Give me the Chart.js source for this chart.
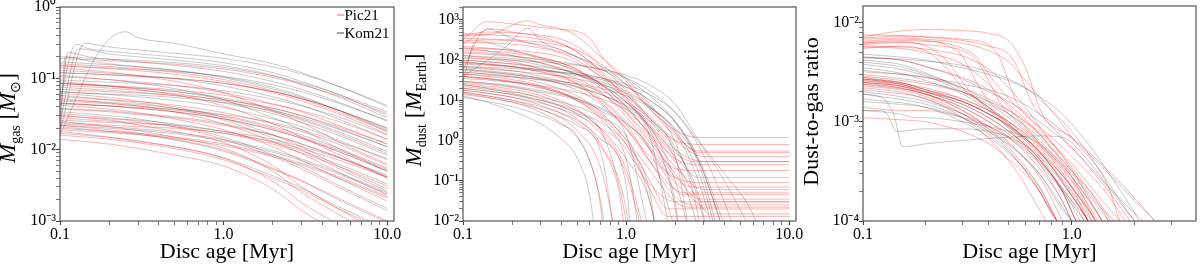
<!DOCTYPE html>
<html><head><meta charset="utf-8">
<script src="https://cdn.jsdelivr.net/npm/chart.js@4.4.0/dist/chart.umd.min.js"></script>
<style>
html,body{margin:0;padding:0;background:#fff;}
#wrap{position:relative;width:1200px;height:266px;overflow:hidden;background:#fff;}
canvas{position:absolute;top:0;}
</style></head><body>
<div id="wrap">
<canvas id="c1" width="430" height="266" style="left:0px;width:430px;height:266px"></canvas>
<canvas id="c2" width="430" height="266" style="left:400px;width:430px;height:266px"></canvas>
<canvas id="c3" width="400" height="266" style="left:800px;width:400px;height:266px"></canvas>
</div>
<script>
// ---------------- DATA ----------------
const seriesNames = ['Pic21', 'Kom21'];
const xTickLabels = ['0.1', '1.0', '10.0'];           // labels at 10^-1, 10^0, 10^1

// Panel 1: gas mass [Msun] vs disc age [Myr]
const gasAge = [0.1, 0.2, 0.3, 0.5, 1, 2, 3, 5, 10];
const gasPic21 = [
  [0.19, 0.177, 0.169, 0.158, 0.135, 0.103, 0.082, 0.057, 0.032],
  [0.16, 0.146, 0.136, 0.122, 0.096, 0.067, 0.051, 0.034, 0.018],
  [0.15, 0.137, 0.128, 0.114, 0.09, 0.063, 0.048, 0.032, 0.0165],
  [0.14, 0.122, 0.109, 0.091, 0.063, 0.035, 0.024, 0.013, 0.0063],
  [0.12, 0.112, 0.107, 0.1, 0.085, 0.065, 0.052, 0.036, 0.02],
  [0.105, 0.096, 0.089, 0.08, 0.063, 0.044, 0.034, 0.022, 0.012],
  [0.09, 0.078, 0.07, 0.059, 0.041, 0.023, 0.015, 0.0086, 0.004],
  [0.085, 0.079, 0.075, 0.069, 0.058, 0.043, 0.035, 0.025, 0.014],
  [0.08, 0.073, 0.068, 0.061, 0.048, 0.034, 0.026, 0.017, 0.0088],
  [0.07, 0.065, 0.062, 0.058, 0.05, 0.038, 0.03, 0.021, 0.012],
  [0.062, 0.054, 0.048, 0.04, 0.028, 0.016, 0.011, 0.0059, 0.0028],
  [0.055, 0.05, 0.047, 0.042, 0.033, 0.023, 0.018, 0.012, 0.006],
  [0.052, 0.045, 0.041, 0.034, 0.023, 0.013, 0.0088, 0.0049, 0.0023],
  [0.048, 0.044, 0.041, 0.036, 0.029, 0.02, 0.015, 0.01, 0.0053],
  [0.045, 0.041, 0.038, 0.034, 0.027, 0.019, 0.0144, 0.0095, 0.005],
  [0.042, 0.037, 0.033, 0.027, 0.019, 0.011, 0.0071, 0.004, 0.0019],
  [0.037, 0.034, 0.031, 0.028, 0.022, 0.016, 0.012, 0.0078, 0.0041],
  [0.032, 0.028, 0.025, 0.021, 0.014, 0.008, 0.0054, 0.003, 0.0014],
  [0.03, 0.026, 0.0222, 0.018, 0.0126, 0.006, 0.003, 0.0015, 0.0006],
  [0.028, 0.025, 0.024, 0.021, 0.017, 0.012, 0.009, 0.0059, 0.0031],
  [0.025, 0.021, 0.0185, 0.015, 0.0105, 0.005, 0.0025, 0.00125, 0.0005],
  [0.024, 0.022, 0.021, 0.02, 0.017, 0.013, 0.0103, 0.0072, 0.0041],
  [0.022, 0.019, 0.017, 0.014, 0.0099, 0.0055, 0.0037, 0.0021, 0.001],
  [0.02, 0.018, 0.017, 0.015, 0.012, 0.0084, 0.0064, 0.0042, 0.0022],
  [0.018, 0.015, 0.013, 0.011, 0.0076, 0.0036, 0.0018, 0.0009, 0.00036],
  [0.016, 0.014, 0.0125, 0.0104, 0.0072, 0.004, 0.0027, 0.0015, 0.00072],
  [0.014, 0.012, 0.0104, 0.0084, 0.0059, 0.0028, 0.0014, 0.0007, 0.00028]
];
const gasKom21 = [
  [0.2, 0.186, 0.178, 0.166, 0.142, 0.108, 0.086, 0.06, 0.034],
  [0.17, 0.155, 0.145, 0.129, 0.102, 0.071, 0.054, 0.036, 0.019],
  [0.15, 0.14, 0.134, 0.125, 0.107, 0.081, 0.065, 0.045, 0.026],
  [0.13, 0.118, 0.11, 0.099, 0.078, 0.055, 0.042, 0.027, 0.014],
  [0.12, 0.112, 0.107, 0.1, 0.085, 0.065, 0.052, 0.036, 0.02],
  [0.11, 0.096, 0.086, 0.072, 0.05, 0.028, 0.019, 0.0105, 0.005],
  [0.095, 0.088, 0.085, 0.079, 0.067, 0.051, 0.041, 0.029, 0.016],
  [0.085, 0.077, 0.072, 0.065, 0.051, 0.036, 0.027, 0.018, 0.0094],
  [0.085, 0.078, 0.073, 0.066, 0.053, 0.038, 0.03, 0.02, 0.011],
  [0.075, 0.068, 0.064, 0.057, 0.045, 0.032, 0.024, 0.016, 0.0083],
  [0.065, 0.06, 0.058, 0.054, 0.046, 0.035, 0.028, 0.0195, 0.011],
  [0.065, 0.059, 0.055, 0.049, 0.039, 0.027, 0.021, 0.0137, 0.0072],
  [0.058, 0.05, 0.045, 0.038, 0.026, 0.0145, 0.0099, 0.0055, 0.0026],
  [0.05, 0.046, 0.043, 0.038, 0.03, 0.021, 0.016, 0.0105, 0.0055],
  [0.045, 0.041, 0.038, 0.034, 0.027, 0.019, 0.0144, 0.0095, 0.005],
  [0.044, 0.041, 0.039, 0.037, 0.031, 0.024, 0.019, 0.013, 0.0075],
  [0.038, 0.035, 0.032, 0.029, 0.023, 0.016, 0.012, 0.008, 0.0042],
  [0.034, 0.03, 0.027, 0.022, 0.015, 0.0085, 0.0058, 0.0032, 0.0015],
  [0.03, 0.027, 0.026, 0.023, 0.018, 0.0126, 0.0096, 0.0063, 0.0033],
  [0.026, 0.024, 0.023, 0.022, 0.018, 0.014, 0.011, 0.0078, 0.0044],
  [0.023, 0.021, 0.0196, 0.0175, 0.0138, 0.0097, 0.0074, 0.0048, 0.0025],
  [0.022, 0.02, 0.0187, 0.0167, 0.0132, 0.0092, 0.007, 0.0046, 0.0024],
  [0.021, 0.018, 0.0164, 0.0137, 0.0095, 0.0053, 0.0036, 0.002, 0.00095],
  [0.019, 0.0173, 0.0162, 0.0144, 0.0114, 0.008, 0.0061, 0.004, 0.0021],
  [0.017, 0.0148, 0.0133, 0.011, 0.0077, 0.0043, 0.0029, 0.0016, 0.00077]
];
// Kom21 tracks with an early infall rise: [age, mass] pairs
const gasKom21Infall = [
  [[0.1,0.03],[0.112,0.23],[0.15,0.2],[0.2,0.185],[0.3,0.17],[0.5,0.152],[1,0.125],[2,0.09],[3,0.07],[5,0.047],[10,0.025]],
  [[0.1,0.018],[0.142,0.31],[0.2,0.275],[0.3,0.25],[0.5,0.225],[1,0.19],[2,0.145],[3,0.115],[5,0.078],[10,0.042]],
  [[0.1,0.016],[0.176,0.25],[0.25,0.45],[0.3,0.37],[0.5,0.31],[1,0.22],[2,0.16],[3,0.12],[5,0.078],[10,0.04]],
  [[0.1,0.05],[0.125,0.3],[0.15,0.26],[0.2,0.24],[0.3,0.22],[0.5,0.2],[1,0.165],[2,0.12],[3,0.09],[5,0.06],[10,0.03]],
  [[0.1,0.015],[0.108,0.2],[0.15,0.175],[0.2,0.16],[0.3,0.145],[0.5,0.13],[1,0.105],[2,0.075],[3,0.056],[5,0.036],[10,0.018]],
  [[0.1,0.025],[0.13,0.26],[0.2,0.22],[0.3,0.2],[0.5,0.18],[1,0.15],[2,0.11],[3,0.082],[5,0.055],[10,0.028]]
];

// Panel 2: dust mass [M_Earth], [age, mass] pairs
const dustPic21 = [
  [[0.1,320],[0.14,900],[0.2,800],[0.3,650],[0.4,580],[0.5,520],[0.6,350],[0.74,100],[1,30],[1.4,6],[2,1.8],[2.8,1.2],[10,1.2]],
  [[0.1,400],[0.15,450],[0.25,950],[0.3,750],[0.4,600],[0.5,400],[0.7,120],[1,35],[1.4,8],[2,1.5],[2.8,0.5],[10,0.5]],
  [[0.1,450],[0.14,430],[0.2,400],[0.3,330],[0.4,250],[0.5,160],[0.7,50],[1,12],[1.4,2.5],[2,0.5],[2.6,0.3],[10,0.3]],
  [[0.1,420],[0.14,500],[0.2,480],[0.3,420],[0.4,330],[0.5,220],[0.6,130],[0.7,70],[1,18],[1.4,3.5],[2,1],[3,0.8],[10,0.8]],
  [[0.1,300],[0.14,320],[0.2,300],[0.3,240],[0.4,180],[0.5,120],[0.7,45],[1,11],[1.4,2.2],[2,0.4],[2.8,0.12],[10,0.12]],
  [[0.1,280],[0.14,270],[0.2,250],[0.3,200],[0.4,150],[0.5,100],[0.7,38],[1,10],[1.4,2],[2,0.35],[3,0.25],[10,0.25]],
  [[0.1,250],[0.15,600],[0.2,500],[0.3,380],[0.4,260],[0.5,160],[0.7,55],[1,15],[1.4,3],[2,0.6],[3,0.3],[10,0.3]],
  [[0.1,220],[0.14,200],[0.2,170],[0.3,120],[0.4,85],[0.5,58],[0.7,22],[1,5],[1.4,0.9],[2,0.2],[2.8,0.18],[10,0.18]],
  [[0.1,180],[0.2,150],[0.3,115],[0.4,85],[0.5,60],[0.7,26],[1,7],[1.4,1.4],[2,0.22],[3,0.06],[10,0.06]],
  [[0.1,160],[0.14,150],[0.2,130],[0.3,100],[0.4,75],[0.5,55],[0.7,25],[1,7],[1.4,1.3],[2,0.12],[2.6,0.07],[10,0.07]],
  [[0.1,120],[0.2,90],[0.3,60],[0.4,40],[0.5,26],[0.7,9],[1,2],[1.4,0.3],[2,0.06],[2.4,0.05],[10,0.05]],
  [[0.1,90],[0.2,70],[0.3,52],[0.5,30],[0.7,15],[1,5],[1.4,1.1],[2,0.15],[2.8,0.035],[10,0.035]],
  [[0.1,85],[0.2,68],[0.3,50],[0.5,26],[0.7,11],[1,3],[1.4,0.6],[2,0.09],[3,0.02],[3.2,0.015],[10,0.015]],
  [[0.1,70],[0.2,55],[0.3,40],[0.5,22],[0.7,10],[1,2.5],[1.4,0.3],[2,0.04],[2.6,0.025],[10,0.025]],
  [[0.1,50],[0.2,38],[0.3,27],[0.5,13],[0.7,5],[1,1],[1.4,0.1],[1.8,0.02],[10,0.02]],
  [[0.1,40],[0.2,30],[0.3,22],[0.5,11],[0.7,4.5],[1,1.1],[1.4,0.18],[2,0.03],[2.4,0.022],[10,0.022]],
  [[0.1,38],[0.2,29],[0.3,21],[0.5,10],[0.7,4],[1,0.8],[1.4,0.06],[1.8,0.013],[10,0.013]],
  [[0.1,30],[0.2,22],[0.3,15],[0.5,6],[0.7,1.8],[1,0.2],[1.3,0.005]],
  [[0.1,26],[0.2,19],[0.3,13],[0.5,5.5],[0.7,2],[1,0.35],[1.4,0.03],[1.6,0.002]],
  [[0.1,20],[0.2,14],[0.3,9],[0.5,3.5],[0.7,0.8],[1,0.02],[1.1,0.001]],
  [[0.1,18],[0.2,12],[0.3,7.5],[0.5,2.8],[0.7,0.7],[0.9,0.06],[1,0.003]],
  [[0.1,16],[0.2,10],[0.3,6],[0.5,1.8],[0.7,0.2],[0.9,0.002]],
  [[0.1,24],[0.2,17],[0.3,11],[0.5,4.5],[0.7,1.5],[1,0.15],[1.3,0.003]],
  [[0.1,60],[0.2,47],[0.3,35],[0.5,18],[0.7,8],[1,2],[1.4,0.4],[2,0.12],[3,0.09],[10,0.09]],
  [[0.1,200],[0.2,180],[0.3,150],[0.4,120],[0.5,85],[0.7,40],[1,14],[1.4,4],[2,1],[3,0.4],[10,0.4]],
  [[0.1,350],[0.2,320],[0.3,280],[0.4,230],[0.5,180],[0.6,120],[0.7,80],[1,25],[1.4,6],[2,1.3],[2.8,0.55],[10,0.55]],
  [[0.1,130],[0.2,110],[0.3,85],[0.5,45],[0.7,20],[1,6],[1.4,1.5],[2,0.3],[3,0.03],[10,0.03]],
  [[0.1,100],[0.2,80],[0.3,62],[0.5,35],[0.7,16],[1,4],[1.4,0.6],[2,0.06],[2.2,0.045],[10,0.045]],
  [[0.1,45],[0.2,33],[0.3,23],[0.5,10],[0.7,3.5],[1,0.6],[1.4,0.08],[2,0.03],[2.5,0.03],[10,0.03]],
  [[0.1,14],[0.2,9],[0.3,5],[0.5,1.2],[0.6,0.3],[0.7,0.02],[0.75,0.001]]
];
const dustKom21 = [
  [[0.1,110],[0.14,105],[0.2,100],[0.3,90],[0.4,82],[0.5,75],[0.7,60],[1,42],[1.4,24],[2,8],[2.8,1.0],[4,0.15],[5.6,0.025],[8,0.001]],
  [[0.1,100],[0.14,92],[0.2,82],[0.3,68],[0.4,58],[0.5,50],[0.7,36],[1,22],[1.4,10],[2,2.8],[2.8,0.25],[3.8,0.003]],
  [[0.1,70],[0.14,66],[0.2,62],[0.3,55],[0.4,50],[0.5,45],[0.7,36],[1,25],[1.4,14],[2,5],[2.8,0.9],[4,0.1],[5.6,0.008]],
  [[0.1,65],[0.14,60],[0.2,54],[0.3,46],[0.4,40],[0.5,34],[0.7,25],[1,15],[1.4,7],[2,1.8],[2.8,0.15],[3.8,0.002]],
  [[0.1,150],[0.14,140],[0.2,125],[0.3,105],[0.4,90],[0.5,78],[0.7,58],[1,36],[1.4,17],[2,5],[2.8,0.7],[4,0.03],[5.6,0.0005]],
  [[0.1,130],[0.14,115],[0.2,100],[0.3,75],[0.4,58],[0.5,45],[0.7,27],[1,12],[1.4,3.5],[2,0.4],[2.6,0.001]],
  [[0.1,45],[0.14,42],[0.2,38],[0.3,33],[0.4,29],[0.5,26],[0.7,20],[1,13],[1.4,6.5],[2,2],[2.8,0.3],[4,0.005]],
  [[0.1,90],[0.14,80],[0.2,70],[0.3,57],[0.4,48],[0.5,41],[0.7,29],[1,17],[1.4,7],[2,1.6],[2.8,0.09],[4,0.0005]],
  [[0.1,35],[0.14,32],[0.2,28],[0.3,23],[0.4,19],[0.5,16],[0.7,11],[1,6],[1.4,2.2],[2,0.35],[2.8,0.006]],
  [[0.1,60],[0.14,52],[0.2,44],[0.3,34],[0.4,27],[0.5,22],[0.7,14],[1,7],[1.4,2.2],[2,0.1],[2.8,0.0005]],
  [[0.1,50],[0.14,46],[0.2,40],[0.3,32],[0.4,26],[0.5,21],[0.7,14],[1,7.5],[1.4,3],[2,0.6],[2.8,0.04],[3.5,0.0005]],
  [[0.1,30],[0.14,27],[0.2,23],[0.3,17.5],[0.4,14],[0.5,11],[0.7,6.5],[1,2.8],[1.4,0.7],[2,0.03],[2.2,0.001]],
  [[0.1,28],[0.14,25],[0.2,21],[0.3,16],[0.4,13],[0.5,10],[0.7,6],[1,2.6],[1.4,0.6],[2,0.006]],
  [[0.1,200],[0.14,170],[0.2,130],[0.3,85],[0.4,60],[0.5,44],[0.7,24],[1,9],[1.4,1.2],[2,0.001]],
  [[0.1,22],[0.14,19],[0.2,16],[0.3,12],[0.4,9],[0.5,7],[0.7,3.8],[1,1.3],[1.4,0.03],[1.7,0.0005]],
  [[0.1,20],[0.14,17],[0.2,14],[0.3,10],[0.4,7.5],[0.5,5.5],[0.7,2.8],[1,0.8],[1.4,0.05],[1.6,0.001]],
  [[0.1,40],[0.14,35],[0.2,28],[0.3,20],[0.4,15],[0.5,11],[0.7,5.5],[1,1.4],[1.4,0.004]],
  [[0.1,18],[0.14,15],[0.2,12],[0.3,8.5],[0.4,6],[0.5,4.3],[0.7,2],[1,0.35],[1.3,0.0005]],
  [[0.1,25],[0.14,20],[0.2,15],[0.3,10],[0.4,7],[0.5,4.8],[0.7,1.8],[1,0.01],[1.1,0.0005]],
  [[0.1,16],[0.14,13],[0.2,10],[0.3,7],[0.4,4.8],[0.5,3.2],[0.7,1.1],[1,0.08],[1.1,0.001]],
  [[0.1,15],[0.14,12],[0.2,9],[0.3,6],[0.4,3.8],[0.5,2.4],[0.7,0.5],[0.9,0.0008]],
  [[0.1,12],[0.14,9.5],[0.2,7],[0.3,4.2],[0.4,2.5],[0.5,1.3],[0.7,0.03],[0.8,0.0005]],
  [[0.1,13],[0.14,9],[0.2,5.5],[0.3,2.6],[0.4,1.1],[0.5,0.38],[0.6,0.04],[0.66,0.002]],
  [[0.1,55],[0.14,50],[0.2,44],[0.3,36],[0.4,30],[0.5,25],[0.7,17],[1,9],[1.4,3.5],[2,0.7],[2.8,0.03],[3.5,0.0005]],
  [[0.1,80],[0.14,75],[0.2,68],[0.3,58],[0.4,50],[0.5,44],[0.7,33],[1,21],[1.4,10],[2,3],[2.8,0.35],[4,0.008]],
  [[0.1,60],[0.14,600],[0.2,350],[0.3,220],[0.4,160],[0.5,120],[0.7,70],[1,35],[1.4,13],[2,3],[2.8,0.3],[4,0.005]],
  [[0.1,40],[0.18,200],[0.25,620],[0.3,300],[0.4,180],[0.5,120],[0.7,60],[1,25],[1.4,7],[2,0.9],[2.8,0.01],[3,0.001]],
  [[0.1,30],[0.12,300],[0.2,180],[0.3,110],[0.4,75],[0.5,52],[0.7,26],[1,9],[1.4,1.8],[2,0.02],[2.2,0.001]]
];

// Panel 3: dust-to-gas ratio, [age, ratio] pairs
const d2gPic21 = [
  [[0.1,0.0072],[0.15,0.0082],[0.2,0.0085],[0.3,0.0083],[0.4,0.0078],[0.5,0.0065],[0.6,0.0035],[0.7,0.0014],[0.75,0.00105],[1,0.0007],[1.5,0.00032],[2,0.00017],[2.5,0.0001],[2.7,0.00008]],
  [[0.1,0.0075],[0.15,0.0074],[0.2,0.0072],[0.3,0.0068],[0.4,0.006],[0.45,0.0045],[0.5,0.0025],[0.55,0.0015],[0.6,0.0012],[0.8,0.0007],[1,0.00045],[1.5,0.00018],[1.8,0.0001],[2,0.00007]],
  [[0.1,0.007],[0.15,0.0073],[0.2,0.0071],[0.3,0.0066],[0.4,0.0058],[0.5,0.0048],[0.55,0.0035],[0.6,0.0022],[0.65,0.0015],[0.8,0.0009],[1,0.00055],[1.5,0.0002],[1.9,0.0001],[2.1,0.00007]],
  [[0.1,0.0068],[0.15,0.007],[0.2,0.0068],[0.3,0.0062],[0.4,0.0052],[0.5,0.004],[0.6,0.0026],[0.7,0.0018],[0.85,0.0011],[1,0.0007],[1.5,0.00022],[1.7,0.0001],[1.9,0.00007]],
  [[0.1,0.0065],[0.15,0.0068],[0.2,0.0066],[0.25,0.006],[0.3,0.0045],[0.35,0.0025],[0.4,0.0016],[0.5,0.0011],[0.7,0.0006],[1,0.00028],[1.3,0.00013],[1.5,0.00008]],
  [[0.1,0.0063],[0.15,0.0064],[0.2,0.006],[0.3,0.0052],[0.35,0.0042],[0.4,0.0026],[0.45,0.0016],[0.5,0.0012],[0.7,0.00062],[1,0.00026],[1.3,0.00011],[1.4,0.00008]],
  [[0.1,0.0062],[0.15,0.0066],[0.2,0.0065],[0.25,0.0062],[0.3,0.0055],[0.35,0.0045],[0.4,0.003],[0.45,0.0022],[0.5,0.0017],[0.7,0.00085],[1,0.00035],[1.4,0.00013],[1.5,0.0001],[1.6,0.00008]],
  [[0.1,0.006],[0.15,0.0063],[0.2,0.0058],[0.25,0.0042],[0.3,0.0025],[0.35,0.0017],[0.5,0.00095],[0.7,0.0005],[1,0.00022],[1.2,0.00012],[1.3,0.00008]],
  [[0.1,0.0058],[0.15,0.0057],[0.2,0.0054],[0.3,0.0046],[0.4,0.0034],[0.5,0.0022],[0.6,0.0014],[0.7,0.0009],[1,0.00033],[1.3,0.00013],[1.4,0.0001],[1.5,0.00008]],
  [[0.1,0.0057],[0.15,0.0055],[0.2,0.005],[0.3,0.0038],[0.4,0.0024],[0.5,0.0014],[0.7,0.0006],[1,0.00022],[1.15,0.00012],[1.25,0.00008]],
  [[0.1,0.0055],[0.15,0.0058],[0.2,0.0052],[0.25,0.0035],[0.3,0.0022],[0.4,0.0014],[0.5,0.0009],[0.7,0.00042],[0.9,0.0002],[1.05,0.0001],[1.15,0.00007]],
  [[0.1,0.0045],[0.15,0.0042],[0.2,0.0036],[0.3,0.0028],[0.4,0.0021],[0.5,0.0015],[0.7,0.00075],[1,0.00028],[1.3,0.0001],[1.4,0.00007]],
  [[0.1,0.0032],[0.2,0.0028],[0.3,0.0022],[0.4,0.0017],[0.5,0.0013],[0.7,0.00075],[1,0.00032],[1.5,0.00011],[1.6,0.00008]],
  [[0.1,0.0029],[0.2,0.0024],[0.3,0.002],[0.4,0.0016],[0.5,0.0013],[0.7,0.00078],[1,0.00038],[1.4,0.00016],[1.7,0.0001],[1.8,0.00008]],
  [[0.1,0.0028],[0.2,0.0022],[0.3,0.0017],[0.4,0.0013],[0.5,0.001],[0.7,0.00055],[1,0.00022],[1.3,0.0001],[1.4,0.00007]],
  [[0.1,0.0027],[0.15,0.0024],[0.2,0.002],[0.3,0.0015],[0.4,0.0011],[0.5,0.0008],[0.7,0.00042],[0.9,0.0002],[1.05,0.0001],[1.15,0.00007]],
  [[0.1,0.0027],[0.15,0.0025],[0.2,0.0021],[0.3,0.0016],[0.4,0.0012],[0.5,0.00088],[0.7,0.00048],[1,0.00019],[1.2,0.0001],[1.3,0.00007]],
  [[0.1,0.0026],[0.15,0.0023],[0.2,0.0019],[0.3,0.0013],[0.4,0.0009],[0.5,0.00062],[0.7,0.00028],[0.85,0.00013],[0.9,0.0001],[1,0.00007]],
  [[0.1,0.0026],[0.15,0.0024],[0.2,0.0021],[0.3,0.0017],[0.4,0.0013],[0.5,0.001],[0.7,0.00058],[1,0.00025],[1.3,0.0001],[1.4,0.00008]],
  [[0.1,0.0025],[0.15,0.0023],[0.2,0.002],[0.3,0.0016],[0.4,0.0012],[0.5,0.00092],[0.7,0.0005],[1,0.00018],[1.2,0.0001],[1.3,0.00007]],
  [[0.1,0.0024],[0.15,0.0022],[0.2,0.0019],[0.3,0.0014],[0.4,0.001],[0.5,0.0007],[0.7,0.00034],[0.9,0.00016],[1,0.0001],[1.1,0.00007]],
  [[0.1,0.0024],[0.2,0.0019],[0.3,0.0013],[0.4,0.00085],[0.5,0.00055],[0.6,0.00035],[0.7,0.00022],[0.8,0.00013],[0.85,0.0001],[0.9,0.00007]],
  [[0.1,0.0023],[0.15,0.0021],[0.2,0.0018],[0.3,0.0012],[0.4,0.0008],[0.5,0.00052],[0.6,0.00032],[0.7,0.0002],[0.8,0.00012],[0.85,0.0001],[0.9,0.00007]],
  [[0.1,0.0021],[0.2,0.0017],[0.3,0.0011],[0.4,0.00068],[0.5,0.0004],[0.6,0.00023],[0.7,0.00013],[0.75,0.0001],[0.8,0.00007]],
  [[0.1,0.0014],[0.15,0.0013],[0.2,0.0013],[0.3,0.0011],[0.4,0.0009],[0.5,0.0007],[0.7,0.0004],[1,0.00016],[1.15,0.0001],[1.25,0.00007]],
  [[0.1,0.0011],[0.15,0.00105],[0.2,0.001],[0.25,0.0009],[0.3,0.0008],[0.4,0.0006],[0.5,0.00042],[0.7,0.0002],[0.85,0.0001],[0.95,0.00007]]
];
const d2gKom21 = [
  [[0.1,0.0048],[0.15,0.0045],[0.2,0.0042],[0.25,0.0038],[0.3,0.0035],[0.4,0.003],[0.5,0.0026],[0.7,0.0018],[0.9,0.0012],[1.2,0.0006],[1.6,0.00025],[2,0.00012],[2.1,0.0001],[2.3,0.00008]],
  [[0.1,0.0045],[0.15,0.0042],[0.2,0.0036],[0.3,0.0027],[0.4,0.002],[0.5,0.0016],[0.7,0.001],[1,0.00055],[1.5,0.00022],[2,0.00012],[2.2,0.0001],[2.4,0.00008]],
  [[0.1,0.0044],[0.15,0.0043],[0.2,0.0041],[0.3,0.0037],[0.4,0.0032],[0.5,0.0027],[0.6,0.0022],[0.7,0.0017],[1,0.0008],[1.4,0.0003],[2,0.0001],[2.2,0.00008]],
  [[0.1,0.0042],[0.15,0.0038],[0.2,0.0031],[0.3,0.0021],[0.4,0.0014],[0.5,0.00095],[0.7,0.00045],[0.9,0.00021],[1.1,0.0001],[1.2,0.00007]],
  [[0.1,0.004],[0.15,0.0036],[0.2,0.003],[0.3,0.0022],[0.4,0.0016],[0.5,0.0012],[0.7,0.00065],[1,0.00028],[1.4,0.0001],[1.5,0.00008]],
  [[0.1,0.0038],[0.15,0.0034],[0.2,0.0029],[0.3,0.002],[0.4,0.0014],[0.5,0.001],[0.7,0.00052],[1,0.00022],[1.3,0.0001],[1.4,0.00008]],
  [[0.1,0.0035],[0.15,0.0031],[0.2,0.0026],[0.3,0.0019],[0.4,0.0013],[0.5,0.00085],[0.7,0.00038],[0.9,0.00016],[1,0.0001],[1.1,0.00007]],
  [[0.1,0.0033],[0.2,0.0028],[0.3,0.0024],[0.5,0.0018],[0.7,0.0012],[1,0.00068],[1.4,0.00035],[2,0.00016],[2.5,0.0001],[2.7,0.00008]],
  [[0.1,0.003],[0.2,0.0025],[0.3,0.002],[0.4,0.0015],[0.5,0.0012],[0.7,0.0007],[1,0.00032],[1.4,0.00013],[1.6,0.0001],[1.7,0.00008]],
  [[0.1,0.0028],[0.15,0.0025],[0.2,0.0021],[0.3,0.0016],[0.4,0.0012],[0.5,0.0009],[0.7,0.0005],[1,0.0002],[1.25,0.0001],[1.35,0.00008]],
  [[0.1,0.0027],[0.15,0.0024],[0.2,0.002],[0.3,0.0015],[0.4,0.0011],[0.5,0.0008],[0.7,0.00042],[0.9,0.0002],[1.05,0.0001],[1.15,0.00007]],
  [[0.1,0.0025],[0.15,0.0023],[0.2,0.002],[0.3,0.0016],[0.4,0.0012],[0.5,0.00092],[0.7,0.0005],[1,0.00018],[1.2,0.0001],[1.3,0.00007]],
  [[0.1,0.0025],[0.15,0.0022],[0.2,0.0019],[0.3,0.0014],[0.4,0.001],[0.5,0.00075],[0.7,0.0004],[1,0.00016],[1.2,0.0001],[1.3,0.00007]],
  [[0.1,0.0022],[0.15,0.002],[0.2,0.0017],[0.3,0.0012],[0.4,0.00085],[0.5,0.0006],[0.7,0.0003],[0.9,0.00014],[1,0.0001],[1.1,0.00007]],
  [[0.1,0.002],[0.15,0.0018],[0.2,0.0016],[0.3,0.0012],[0.4,0.0009],[0.5,0.00068],[0.7,0.00038],[1,0.00015],[1.15,0.0001],[1.25,0.00008]],
  [[0.1,0.0019],[0.2,0.0015],[0.3,0.0011],[0.4,0.00075],[0.5,0.0005],[0.6,0.00032],[0.7,0.0002],[0.8,0.00012],[0.85,0.0001],[0.9,0.00008]],
  [[0.1,0.0017],[0.2,0.0014],[0.3,0.001],[0.4,0.0007],[0.5,0.00048],[0.7,0.00022],[0.85,0.0001],[0.9,0.00008]],
  [[0.1,0.0016],[0.15,0.0015],[0.2,0.0014],[0.3,0.0011],[0.4,0.0008],[0.5,0.00058],[0.7,0.0003],[0.9,0.00013],[1,0.0001],[1.1,0.00007]],
  [[0.1,0.0013],[0.15,0.0012],[0.18,0.0011],[0.2,0.0011],[0.3,0.001],[0.4,0.0009],[0.5,0.0008],[0.7,0.0006],[1,0.0003],[1.4,0.00012],[1.5,0.0001],[1.6,0.00008]],
  [[0.1,0.0013],[0.12,0.0013],[0.13,0.0012],[0.145,0.0008],[0.2,0.00085],[0.3,0.00085],[0.4,0.0008],[0.5,0.0007],[0.7,0.00045],[1,0.00018],[1.2,0.0001],[1.3,0.00008]],
  [[0.1,0.0019],[0.12,0.0018],[0.14,0.0012],[0.155,0.00056],[0.2,0.0006],[0.3,0.00065],[0.5,0.0007],[0.7,0.00072],[0.9,0.0007],[1.1,0.0005],[1.5,0.00022],[2,0.0001],[2.2,0.00008]]
];

// ---------------- RENDERING ----------------
const FONT = "'Liberation Serif', 'Times New Roman', serif";
Chart.defaults.font.family = FONT;
Chart.defaults.color = '#000';
const RED = 'rgba(255,0,0,0.3)';
const GRAY = 'rgba(0,0,0,0.21)';
const SUP = {'-':'\u207B','0':'\u2070','1':'\u00B9','2':'\u00B2','3':'\u00B3','4':'\u2074','5':'\u2075','6':'\u2076','7':'\u2077','8':'\u2078','9':'\u2079'};

function decade(v){ const l = Math.log10(v); const r = Math.round(l); return Math.abs(l - r) < 1e-6 ? r : null; }
function isMinor(v){ const e = Math.floor(Math.log10(v) + 1e-9); const m = v / Math.pow(10, e); return Math.abs(m - Math.round(m)) < 1e-6; }
function yTick(v){ const d = decade(v); if (d !== null) return '10' + String(d).split('').map(c => SUP[c]).join(''); return isMinor(v) ? '' : null; }
function xTick(v){ const d = decade(v); if (d !== null) return xTickLabels[d + 1]; return isMinor(v) ? '' : null; }

function fromGrid(xs, ys){ return ys.map((y, i) => ({x: xs[i], y})); }
function fromPairs(p){ return p.map(([x, y]) => ({x, y})); }
function ds(points, color, label){
  return {label, data: points, borderColor: color, borderWidth: 1, pointRadius: 0, fill: false,
          cubicInterpolationMode: 'monotone'};
}

const framePlugin = {
  id: 'frame',
  afterDatasetsDraw(chart){
    const {ctx, chartArea: a} = chart;
    ctx.save(); ctx.strokeStyle = '#555'; ctx.lineWidth = 1.2;
    ctx.strokeRect(a.left, a.top, a.right - a.left, a.bottom - a.top);
    ctx.restore();
  }
};
function yTitlePlugin(segs, cx, cy){
  return {
    id: 'ytitle',
    afterDraw(chart){
      const ctx = chart.ctx; ctx.save(); ctx.fillStyle = '#000'; ctx.textBaseline = 'alphabetic'; ctx.textAlign = 'left';
      let total = 0;
      segs.forEach(s => { ctx.font = s.font; s.w = ctx.measureText(s.t).width; total += s.w; });
      ctx.translate(cx, cy); ctx.rotate(-Math.PI / 2);
      let x = -total / 2;
      segs.forEach(s => { ctx.font = s.font; ctx.fillText(s.t, x, s.dy || 0); x += s.w; });
      ctx.restore();
    }
  };
}
const legendPlugin = {
  id: 'mylegend',
  afterDraw(chart){
    const ctx = chart.ctx; ctx.save();
    const items = [{t: seriesNames[0], c: 'rgba(255,0,0,0.5)', y: 15}, {t: seriesNames[1], c: 'rgba(0,0,0,0.6)', y: 33}];
    ctx.font = `15px ${FONT}`; ctx.textBaseline = 'middle'; ctx.fillStyle = '#000';
    items.forEach(it => {
      ctx.strokeStyle = it.c; ctx.lineWidth = 1.2;
      ctx.beginPath(); ctx.moveTo(337, it.y); ctx.lineTo(344, it.y); ctx.stroke();
      ctx.fillText(it.t, 344.5, it.y + 1);
    });
    ctx.restore();
  }
};

function makeChart(id, o){
  const tickFont = {family: FONT, size: 16};
  return new Chart(document.getElementById(id), {
    type: 'line',
    data: {datasets: o.datasets},
    options: {
      responsive: false, animation: false, devicePixelRatio: 1,
      layout: {padding: {left: 0, right: o.padRight, top: o.padTop, bottom: 0}},
      plugins: {legend: {display: false}, tooltip: {enabled: false}},
      scales: {
        x: {
          type: 'logarithmic', position: 'bottom', min: o.xMin, max: o.xMax,
          grid: {display: true, drawOnChartArea: false, drawTicks: true, tickLength: 4, tickColor: '#444',
                 tickWidth: c => (c.tick && decade(c.tick.value) !== null) ? 1.1 : 0.7},
          border: {display: false},
          ticks: {autoSkip: false, maxRotation: 0, minRotation: 0, padding: 0, color: '#000',
                  font: tickFont, major: {enabled: false}, callback: xTick},
          title: {display: true, text: 'Disc age [Myr]', color: '#000', font: {family: FONT, size: 22},
                  padding: {top: 0, bottom: 1}},
          afterFit: s => { s.height = 45; s.paddingLeft = 0; s.paddingRight = 0; }
        },
        y: {
          type: 'logarithmic', position: 'left', min: o.yMin, max: o.yMax,
          grid: {display: true, drawOnChartArea: false, drawTicks: true, tickLength: 4, tickColor: '#444',
                 tickWidth: c => (c.tick && decade(c.tick.value) !== null) ? 1.1 : 0.7},
          border: {display: false},
          ticks: {autoSkip: false, padding: 0, color: '#000', font: tickFont, major: {enabled: false}, callback: yTick},
          afterFit: s => { s.width = o.yWidth; s.paddingTop = 0; s.paddingBottom = 0; }
        }
      }
    },
    plugins: [framePlugin, yTitlePlugin(o.yTitle, o.tx, o.ty)].concat(o.extra || [])
  });
}

const BIG = `italic 23px ${FONT}`, SUBF = `14px ${FONT}`, REG = `23px ${FONT}`;

makeChart('c1', {
  datasets: gasPic21.map(ys => ds(fromGrid(gasAge, ys), RED, 'Pic21'))
    .concat(gasKom21.map(ys => ds(fromGrid(gasAge, ys), GRAY, 'Kom21')))
    .concat(gasKom21Infall.map(p => ds(fromPairs(p), GRAY, 'Kom21'))),
  xMin: 0.1, xMax: 11, yMin: 0.001, yMax: 1,
  padRight: 36, padTop: 7, yWidth: 60,
  yTitle: [{t:'M', font: BIG}, {t:'gas', font: SUBF, dy: 5}, {t:' [', font: REG}, {t:'M', font: BIG},
           {t:'\u2299', font: SUBF, dy: 5}, {t:']', font: REG}],
  tx: 15, ty: 118,
  extra: [legendPlugin]
});

makeChart('c2', {
  datasets: dustPic21.map(p => ds(fromPairs(p), RED, 'Pic21'))
    .concat(dustKom21.map(p => ds(fromPairs(p), GRAY, 'Kom21'))),
  xMin: 0.1, xMax: 11, yMin: 0.01, yMax: 2100,
  padRight: 34, padTop: 7, yWidth: 63,
  yTitle: [{t:'M', font: BIG}, {t:'dust', font: SUBF, dy: 5}, {t:' [', font: REG}, {t:'M', font: BIG},
           {t:'Earth', font: SUBF, dy: 5}, {t:']', font: REG}],
  tx: 21, ty: 110
});

makeChart('c3', {
  datasets: d2gPic21.map(p => ds(fromPairs(p), RED, 'Pic21'))
    .concat(d2gKom21.map(p => ds(fromPairs(p), GRAY, 'Kom21'))),
  xMin: 0.1, xMax: 3.94, yMin: 0.0001, yMax: 0.0147,
  padRight: 4, padTop: 6, yWidth: 63,
  yTitle: [{t:'Dust-to-gas ratio', font: `22px ${FONT}`}],
  tx: 17.5, ty: 111.5
});
</script>
</body></html>
